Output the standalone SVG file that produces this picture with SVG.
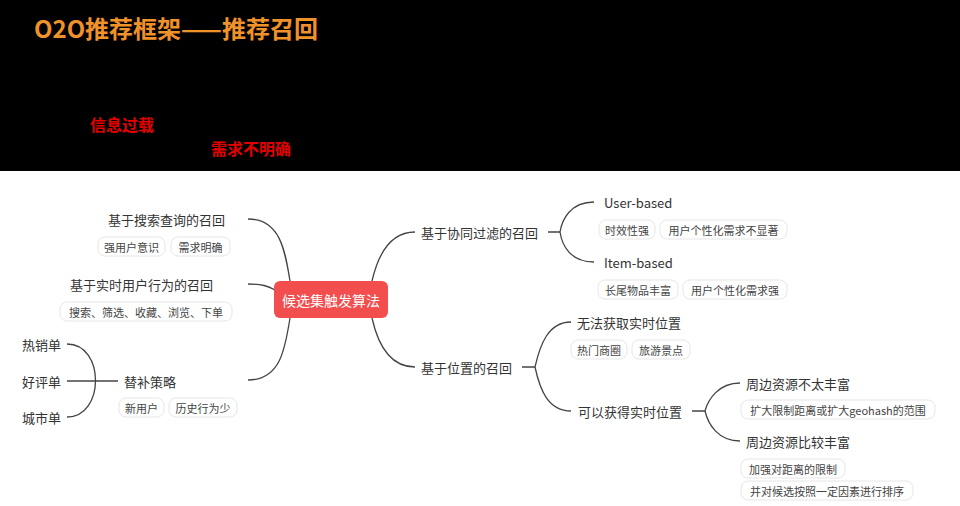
<svg xmlns="http://www.w3.org/2000/svg" width="960" height="506" viewBox="0 0 960 506">
<style>
text{font-family:"Noto Sans CJK SC","Liberation Sans",sans-serif;}
.l{font-size:13px;fill:#333;dominant-baseline:central}
.t{font-size:11px;fill:#444;dominant-baseline:central;text-anchor:middle}
.tag{fill:#fff;stroke:#e6e6e6;stroke-width:1}
.c{fill:none;stroke:#444;stroke-width:1.3}
</style>
<rect width="960" height="506" fill="#fff"/>
<rect width="960" height="171" fill="#000"/>
<text x="34" y="38" font-size="24" font-weight="bold" fill="#f0922a">O2O推荐框架——推荐召回</text>
<text x="90" y="131" font-size="16" font-weight="bold" fill="#e50000">信息过载</text>
<text x="211" y="155" font-size="16" font-weight="bold" fill="#e50000">需求不明确</text>
<g id="connectors">
<path class="c" d="M248,219 C280,219 285,250 290,281"/>
<path class="c" d="M248,284 C262,284 268,286 275,290"/>
<path class="c" d="M248,380 C280,380 285,350 290,318"/>
<path class="c" d="M67,344 C105,344 105,417 67,417"/>
<path class="c" d="M67,381 L118,381"/>
<path class="c" d="M372,281 C378,255 390,232 415,232"/>
<path class="c" d="M372,318 C378,345 390,367 415,367"/>
<path class="c" d="M548,232 L560,232 M594,202 C570,202 562,220 560,232 C562,245 570,262 594,262"/>
<path class="c" d="M522,367 L535,367 M571,322 C548,322 540,345 535,367 C540,390 548,411 571,411"/>
<path class="c" d="M692,411 L705,411 M740,383 C718,383 708,400 705,411 C708,424 718,441 740,441"/>
</g>
<g id="center"><rect x="274" y="281" width="114" height="37" rx="6" fill="#f24e4e"/><text x="331" y="300" font-size="14" fill="#fff" text-anchor="middle" dominant-baseline="central">候选集触发算法</text></g>
<g id="n-search"><text class="l" x="225" y="219" text-anchor="end">基于搜索查询的召回</text>
<rect class="tag" x="98" y="237" width="67" height="19" rx="7"/><text class="t" x="131.5" y="246.5">强用户意识</text>
<rect class="tag" x="171" y="237" width="59" height="19" rx="7"/><text class="t" x="200.5" y="246.5">需求明确</text></g>
<g id="n-realtime"><text class="l" x="213" y="284" text-anchor="end">基于实时用户行为的召回</text>
<rect class="tag" x="60" y="302" width="172" height="19" rx="7"/><text class="t" x="146" y="311.5">搜索、筛选、收藏、浏览、下单</text></g>
<g id="n-backup"><text class="l" x="124" y="381">替补策略</text>
<rect class="tag" x="119" y="398" width="45" height="19" rx="7"/><text class="t" x="141.5" y="407.5">新用户</text>
<rect class="tag" x="169" y="398" width="68" height="19" rx="7"/><text class="t" x="203" y="407.5">历史行为少</text></g>
<g id="n-hot"><text class="l" x="22" y="344">热销单</text></g>
<g id="n-good"><text class="l" x="22" y="381">好评单</text></g>
<g id="n-city"><text class="l" x="22" y="417">城市单</text></g>
<g id="n-cf"><text class="l" x="421" y="232">基于协同过滤的召回</text></g>
<g id="n-user"><text class="l" x="604" y="202">User-based</text>
<rect class="tag" x="599" y="220" width="56" height="19" rx="7"/><text class="t" x="627" y="229.5">时效性强</text>
<rect class="tag" x="660" y="220" width="127" height="19" rx="7"/><text class="t" x="723.5" y="229.5">用户个性化需求不显著</text></g>
<g id="n-item"><text class="l" x="604" y="262">Item-based</text>
<rect class="tag" x="598" y="280" width="80" height="19" rx="7"/><text class="t" x="638" y="289.5">长尾物品丰富</text>
<rect class="tag" x="683" y="280" width="104" height="19" rx="7"/><text class="t" x="735" y="289.5">用户个性化需求强</text></g>
<g id="n-loc"><text class="l" x="421" y="367">基于位置的召回</text></g>
<g id="n-noloc"><text class="l" x="577" y="322">无法获取实时位置</text>
<rect class="tag" x="571" y="340" width="56" height="19" rx="7"/><text class="t" x="599" y="349.5">热门商圈</text>
<rect class="tag" x="632" y="340" width="58" height="19" rx="7"/><text class="t" x="661" y="349.5">旅游景点</text></g>
<g id="n-hasloc"><text class="l" x="578" y="411">可以获得实时位置</text></g>
<g id="n-few"><text class="l" x="746" y="383">周边资源不太丰富</text>
<rect class="tag" x="741" y="400" width="194" height="19" rx="7"/><text class="t" x="838" y="409.5">扩大限制距离或扩大geohash的范围</text></g>
<g id="n-rich"><text class="l" x="746" y="441">周边资源比较丰富</text>
<rect class="tag" x="741" y="459" width="104" height="19" rx="7"/><text class="t" x="793" y="468.5">加强对距离的限制</text>
<rect class="tag" x="741" y="481" width="172" height="19" rx="7"/><text class="t" x="827" y="490.5">并对候选按照一定因素进行排序</text></g>
</svg>
